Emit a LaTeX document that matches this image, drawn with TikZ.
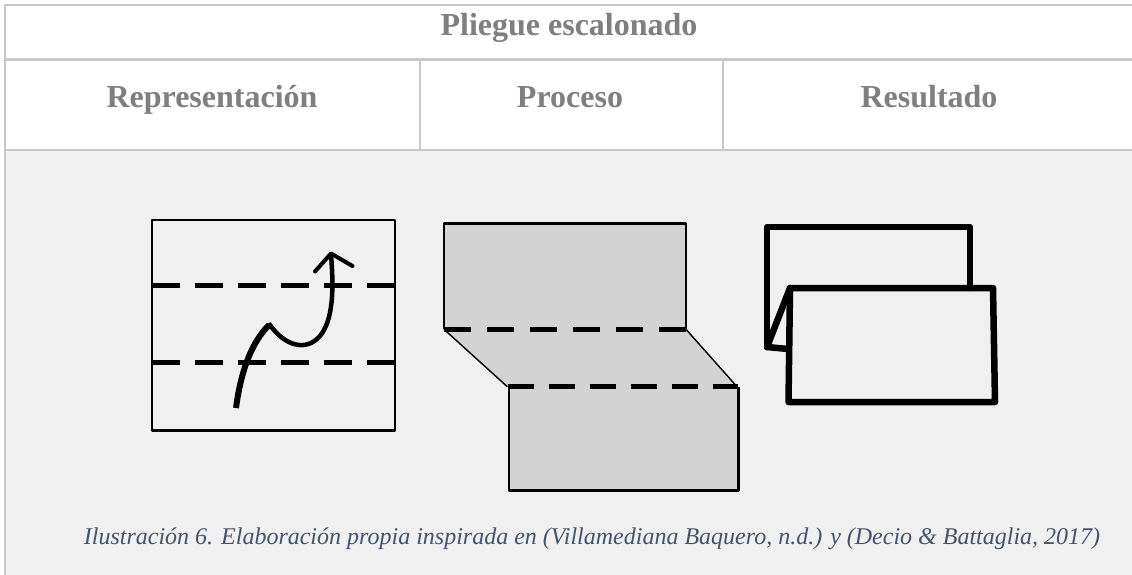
\documentclass[tikz,border=0pt]{standalone}
\usepackage{fontspec}
\setmainfont{Liberation Serif}
\definecolor{hdrgray}{RGB}{127,127,127}
\definecolor{rulegray}{RGB}{200,200,200}
\definecolor{bggray}{RGB}{240,240,240}
\definecolor{paper}{RGB}{211,211,211}
\definecolor{capblue}{RGB}{68,84,106}
\begin{document}
\begin{tikzpicture}[x=1pt,y=-1pt,
  hdr/.style={text=hdrgray,font=\fontsize{32}{36}\selectfont\bfseries,inner sep=0pt,anchor=base},
  captext/.style={text=capblue,font=\fontsize{24}{28}\selectfont\itshape,inner sep=0pt,anchor=base},
  rulel/.style={draw=rulegray,line width=2pt},
  outline/.style={draw=black,line width=2.7pt,line join=round},
  fold/.style={draw=black,line width=4.6pt},
  thick3/.style={draw=black,line width=6.5pt,line join=round,line cap=round}]
\useasboundingbox (0,0) rectangle (1132,575);
\fill[white] (0,0) rectangle (1132,575);
\fill[bggray] (5,150) rectangle (1132,575);
% table rules
\draw[rulel] (4,5) -- (1132,5);
\draw[rulel,line width=3pt] (4,60) -- (1132,60);
\draw[rulel] (4,149.5) -- (1132,149.5);
\draw[rulel] (4.7,4) -- (4.7,575);
\draw[rulel] (420,60) -- (420,149.5);
\draw[rulel] (723,60) -- (723,149.5);
% texts
\node[hdr] (title) at (569,36) {Pliegue escalonado};
\node[hdr] (h1) at (212,108) {Representación};
\node[hdr] (h2) at (570,108) {Proceso};
\node[hdr] (h3) at (929,108) {Resultado};
\node[captext] (caption) at (592,544) {Ilustración 6. Elaboración propia inspirada en (Villamediana Baquero, n.d.) y (Decio \& Battaglia, 2017)};
% panel 1
\draw[outline] (152,220) rectangle (395,430.7);
\draw[fold,dash pattern=on 28pt off 15pt] (152,285.7) -- (395,285.7);
\draw[fold,dash pattern=on 28pt off 15pt] (152,362.3) -- (395,362.3);
\draw[black,line width=6pt] (236,408) .. controls (241,370) and (252,342) .. (269,325);
\draw[black,line width=4.5pt,line join=miter] (267.5,326) -- (270,325) .. controls (285,346) and (306,352) .. (320,336) .. controls (333,320) and (334,290) .. (331,255);
\draw[black,line width=4pt,line cap=round,line join=round] (315,271.5) -- (331,253.5) -- (352.5,266);
% panel 2
\fill[paper] (444,223.3) -- (686,223.3) -- (686,329.3) -- (737,386.7) -- (738.3,386.7) -- (738.3,490.7) -- (509,490.7) -- (509,386.7) -- (507.3,386.7) -- (444,329.3) -- cycle;
\draw[outline] (444,329.3) -- (444,223.3) -- (686,223.3) -- (686,329.3);
\draw[black,line width=1.4pt] (444,329.3) -- (507.3,386.7);
\draw[black,line width=1.4pt] (686,329.3) -- (737,386.7);
\draw[outline] (509,386.7) -- (509,490.7) -- (738.3,490.7) -- (738.3,386.7);
\draw[fold,dash pattern=on 27pt off 16pt] (444,329.3) -- (686,329.3);
\draw[fold,dash pattern=on 26pt off 15pt] (507.5,386.7) -- (738,386.7);
% panel 3
\draw[thick3] (767,347) -- (767,227) -- (970,227) -- (970,288);
\draw[thick3] (767,347) -- (790,288);
\draw[thick3] (767,347) -- (788,349);
\draw[thick3] (790,288) -- (993,288) -- (995,402) -- (788.5,402) -- cycle;
\end{tikzpicture}
\end{document}
